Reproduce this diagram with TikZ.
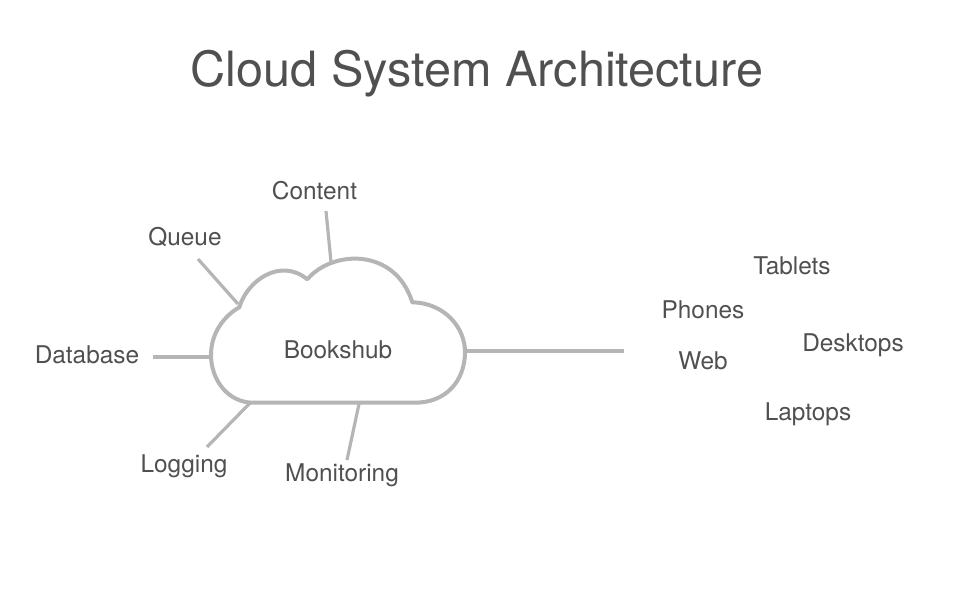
\documentclass[tikz,border=0pt]{standalone}
\usepackage{fontspec}
\setmainfont{TeX Gyre Heros}
\definecolor{inkgrey}{HTML}{505050}
\definecolor{linegrey}{HTML}{B5B5B8}
\tikzstyle{label} = [text=inkgrey, font=\fontsize{24.4}{24.4}\selectfont, inner sep=0pt, anchor=base]
\tikzstyle{branch} = [linegrey, line width=3.2pt]

\begin{document}
\begin{tikzpicture}[x=1pt, y=-1pt]
\useasboundingbox (0,0) rectangle (954,615);

\node [text=inkgrey, font=\fontsize{48.6}{48.6}\selectfont, inner sep=0pt, anchor=base] (title) at (477,87) {Cloud System Architecture};

%cloud
\draw [linegrey, line width=4pt, fill=white, line join=round]
  (239.3,307.3) .. controls (247,281) and (280,257) .. (307.3,279.3)
  .. controls (332,250) and (395,247) .. (412.3,302.3)
  .. controls (445,303) and (465,328) .. (465,351.7)
  .. controls (465,382) and (445,402.7) .. (415,402.7)
  -- (253.3,402.7)
  .. controls (228,402.7) and (211,380) .. (211,355)
  .. controls (211,333) and (224,316) .. (239.3,307.3) -- cycle;

\node [label] (bookshub) at (338,358) {Bookshub};
\node [label] (content) at (314.5,200) {Content};
\node [label] (queue) at (185,245) {Queue};
\node [label] (database) at (87,363) {Database};
\node [label] (logging) at (184,472) {Logging};
\node [label] (monitoring) at (342,481) {Monitoring};
\node [label] (tablets) at (792,274) {Tablets};
\node [label] (phones) at (703,318) {Phones};
\node [label] (desktops) at (853,351) {Desktops};
\node [label] (web) at (703,369) {Web};
\node [label] (laptops) at (808,420) {Laptops};

\coordinate (content a) at (326,211);
\coordinate (content b) at (331,262);
\coordinate (queue a) at (198,259);
\coordinate (queue b) at (238,304);
\coordinate (database a) at (153,357);
\coordinate (database b) at (210,357);
\coordinate (logging a) at (207,447);
\coordinate (logging b) at (250,403);
\coordinate (monitoring a) at (347,460);
\coordinate (monitoring b) at (359,404);
\coordinate (clients a) at (467,351);
\coordinate (clients b) at (624,351);

\path [branch, draw] (content a) -- (content b);
\path [branch, draw] (queue a) -- (queue b);
\path [branch, draw] (database a) -- (database b);
\path [branch, draw] (logging a) -- (logging b);
\path [branch, draw] (monitoring a) -- (monitoring b);
\path [branch, draw] (clients a) -- (clients b);

\end{tikzpicture}
\end{document}
